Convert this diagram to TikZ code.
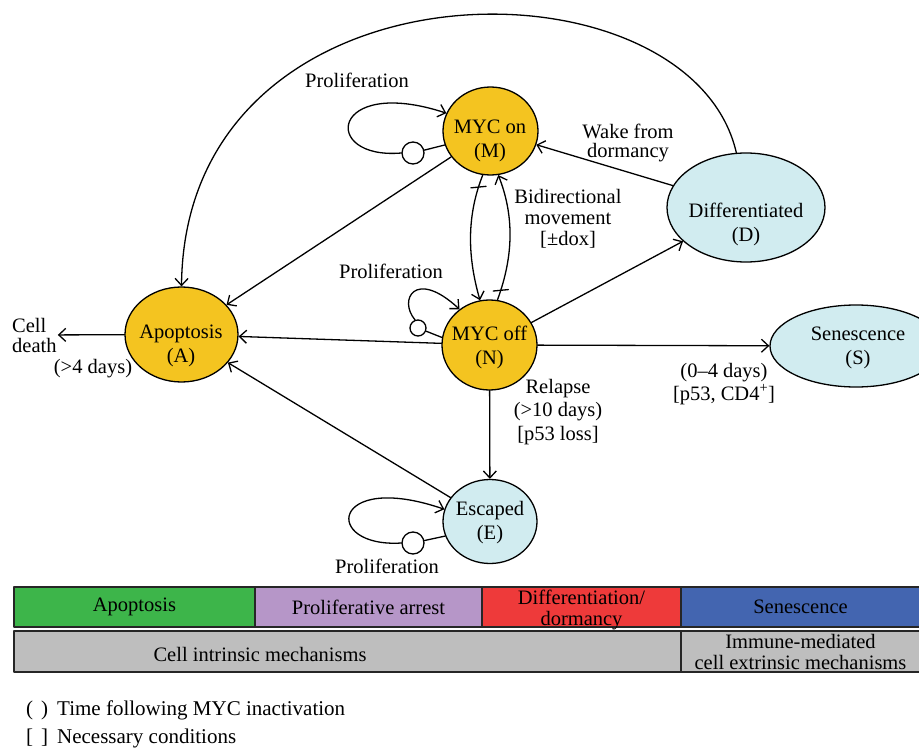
\documentclass[tikz,border=0pt]{standalone}
\usepackage{fontspec}
\setmainfont{Liberation Serif}
\usetikzlibrary{arrows.meta,shapes.geometric,decorations.markings}

\definecolor{cellYellow}{HTML}{F4C420}
\definecolor{cellCyan}{HTML}{D1ECF0}
\definecolor{barGreen}{HTML}{3DB54A}
\definecolor{barPurple}{HTML}{B696C8}
\definecolor{barRed}{HTML}{EE3A3A}
\definecolor{barBlue}{HTML}{4365B0}
\definecolor{barGray}{HTML}{BEBEBE}

\begin{document}
\begin{tikzpicture}[
  x=1pt, y=-1pt,
  line cap=round,
  line join=round,
  font=\fontsize{20.5}{24}\selectfont,
  state/.style={ellipse, draw=black, line width=1.3pt, inner sep=0pt},
  yellowstate/.style={state, fill=cellYellow},
  cyanstate/.style={state, fill=cellCyan},
  statetext/.style={align=center, inner sep=0pt},
  edge/.style={-{Straight Barb[length=7pt,width=13pt]}, line width=1.3pt},
  link/.style={line width=1.3pt},
  ring/.style={circle, draw=black, fill=white, line width=1.3pt, inner sep=0pt},
  lbl/.style={align=center, inner sep=1pt},
  barbox/.style={draw=black!85, line width=1.4pt, align=center, inner sep=0pt,
    font=\fontsize{20.5}{21}\selectfont},
  crossmark/.style={postaction={decorate}, decoration={markings,
    mark=at position #1 with {\draw[-, line width=1.3pt] (3pt,-7pt) -- (-3pt,7pt);}}}
]
\useasboundingbox (0,0) rectangle (919,752);

% Cell states.
\node[yellowstate, minimum width=95pt, minimum height=88pt] (M) at (490.5,131) {};
\node[statetext] (Mtext) at (490,141) {MYC on\\(M)};
\node[yellowstate, minimum width=95pt, minimum height=90pt] (N) at (489.5,345) {};
\node[statetext] (Ntext) at (489.5,347.5) {MYC off\\(N)};
\node[yellowstate, minimum width=113pt, minimum height=95pt] (A) at (181.5,334.5) {};
\node[statetext] (Atext) at (181,346) {Apoptosis\\(A)};
\node[cyanstate, minimum width=94pt, minimum height=84pt] (E) at (490,521.5) {};
\node[statetext] (Etext) at (490,522.5) {Escaped\\(E)};
\node[cyanstate, minimum width=158pt, minimum height=109pt] (D) at (746,207.5) {};
\node[statetext] (Dtext) at (746,224) {Differentiated\\(D)};
\node[cyanstate, minimum width=172pt, minimum height=82pt] (S) at (856,346) {};
\node[statetext] (Stext) at (858,348) {Senescence\\(S)};

% Proliferation loops.
\node[ring, minimum size=22pt] (Mring) at (413,153) {};
\draw[link] (M.197) -- (Mring);
\draw[edge] (Mring.west) .. controls (320,160) and (330,75) .. (M.158);
\node[lbl] (proM) at (357,80) {Proliferation};

\node[ring, minimum size=16pt] (Nring) at (418,328) {};
\draw[link] (N.171) -- (Nring);
\draw[edge] (Nring.110) .. controls (398,300) and (415,268) .. (N.130);
\node[lbl] (proN) at (391,271) {Proliferation};

\node[ring, minimum size=22pt] (Ering) at (413,543) {};
\draw[link] (E.198) -- (Ering);
\draw[edge] (Ering.west) .. controls (322,548) and (330,470) .. (E.165);
\node[lbl] (proE) at (387,566) {Proliferation};

% Transitions.
\node[lbl, anchor=west, align=left, font=\fontsize{20.5}{20}\selectfont] (death) at (11,335) {Cell\\death};
\node[lbl] (fourDays) at (93,369) {(>4 days)};
\draw[edge] (A) -- (death);
\draw[edge] (M) -- (A);
\draw[edge] (N) -- (A);
\draw[edge] (E) -- (A);
\draw[edge] (D.100) .. controls (690,-50) and (185,-50) .. (A.north);

\draw[edge, crossmark=0.1] (M.260) .. controls (467,215) and (467,255) .. (N.102);
\draw[edge, crossmark=0.08] (N.80) .. controls (514,255) and (514,215) .. (M.280);
\node[lbl, font=\fontsize{20.5}{21}\selectfont] (bidir) at (568,219) {Bidirectional\\movement\\{[}±dox{]}};

\draw[edge] (D) -- (M);
\node[lbl, font=\fontsize{20.5}{19.5}\selectfont] (wake) at (628,143) {Wake from\\dormancy};
\draw[edge] (N) -- (D);

\draw[edge] (N) -- (S);
\node[lbl, font=\fontsize{20.5}{23}\selectfont] (senCond) at (724,384) {(0–4 days)\\{[}p53, CD4\textsuperscript{+}{]}};

\draw[edge] (N) -- (E);
\node[lbl, font=\fontsize{20.5}{23.5}\selectfont] (relapse) at (558,412) {Relapse\\(>10 days)\\{[}p53 loss{]}};

% Mechanism bars.
\node[barbox, fill=barGreen, minimum width=241pt, minimum height=40pt] (barApop) at (134.5,607) {Apoptosis};
\node[barbox, fill=barPurple, minimum width=227pt, minimum height=40pt] (barArrest) at (368.5,607) {Proliferative arrest};
\node[barbox, fill=barRed, minimum width=199pt, minimum height=40pt] (barDiff) at (581.5,607) {};
\node[lbl, font=\fontsize{20.5}{21}\selectfont] (diffText) at (581.5,610) {Differentiation/\\dormancy};
\node[barbox, fill=barBlue, minimum width=239pt, minimum height=40pt] (barSen) at (800.5,607) {Senescence};
\node[barbox, fill=barGray, minimum width=667pt, minimum height=41pt] (barIntr) at (347.5,651.5) {};
\node[lbl, font=\fontsize{20.5}{21}\selectfont] (intrText) at (260,654) {Cell intrinsic mechanisms};
\node[barbox, fill=barGray, minimum width=239pt, minimum height=41pt] (barExtr) at (800.5,651.5) {Immune-mediated\\cell extrinsic mechanisms};

% Legend.
\node[lbl, anchor=west, font=\fontsize{21}{24}\selectfont] (legTime) at (25,710) {(\hspace{8pt})\hspace{9pt}Time following MYC inactivation};
\node[lbl, anchor=west, font=\fontsize{21}{24}\selectfont] (legCond) at (25,738) {{[}\hspace{8pt}{]}\hspace{9pt}Necessary conditions};

\end{tikzpicture}
\end{document}
